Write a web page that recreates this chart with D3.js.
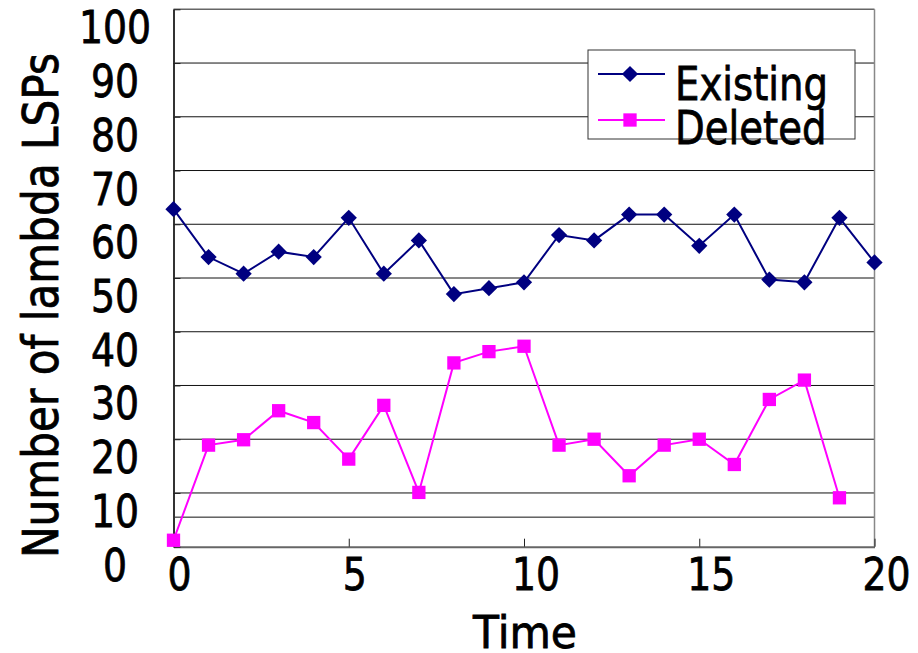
<!DOCTYPE html>
<html>
<head>
<meta charset="utf-8">
<script src="https://cdn.jsdelivr.net/npm/d3@7"></script>
<style>
  html, body { margin: 0; padding: 0; background: #fff; }
  text { font-family: "DejaVu Sans", Verdana, sans-serif; fill: #000; stroke: #000; stroke-width: 0.8px; }
</style>
</head>
<body>
<div id="chart"></div>
<script>
// data
var times = [0, 1, 2, 3, 4, 5, 6, 7, 8, 9, 10, 11, 12, 13, 14, 15, 16, 17, 18, 19, 20];
var existing = [62.8, 53.9, 50.8, 54.9, 53.9, 61.2, 50.8, 57.0, 47.0, 48.1, 49.2,
                58.0, 57.0, 61.8, 61.8, 56.0, 61.8, 49.7, 49.2, 61.2, 52.9];
var deleted = [1.2, 18.9, 19.9, 25.3, 23.1, 16.3, 26.3, 10.1, 34.2, 36.3, 37.3,
               18.9, 20.0, 13.2, 18.9, 20.0, 15.3, 27.4, 31.0, 9.1];
var yTicks = [0, 10, 20, 30, 40, 50, 60, 70, 80, 90, 100];
var xTicks = [0, 5, 10, 15, 20];
var extraLines = [5.5];
var seriesNames = ["Existing", "Deleted"];

var w = 918,
    h = 653;

var x = d3.scaleLinear().domain([0, 20]).range([173.5, 874.5]);
var y = d3.scaleLinear().domain([0, 100]).range([546.7, 9.3]);

var svg = d3.select("#chart").append("svg")
    .attr("width", w)
    .attr("height", h);

// squeeze text horizontally, the original font is narrow
function squeeze(sel, factor) {
    sel.each(function() {
        var len = this.getComputedTextLength();
        d3.select(this)
            .attr("textLength", len * factor)
            .attr("lengthAdjust", "spacingAndGlyphs");
    });
}

// gridlines
svg.append("g").selectAll("line")
    .data(yTicks.slice(1, -1).concat(extraLines))
    .enter().append("line")
    .attr("x1", x(0)).attr("x2", x(20))
    .attr("y1", function(d) { return y(d); })
    .attr("y2", function(d) { return y(d); })
    .attr("stroke", "#111")
    .attr("stroke-width", 1);

// frame
svg.append("line")
    .attr("x1", x(0)).attr("x2", x(20))
    .attr("y1", y(100)).attr("y2", y(100))
    .attr("stroke", "#666").attr("stroke-width", 1.5);
svg.append("line")
    .attr("x1", x(20)).attr("x2", x(20))
    .attr("y1", y(100)).attr("y2", y(0))
    .attr("stroke", "#888").attr("stroke-width", 1.5);

// axes
var xAxis = d3.axisBottom(x).tickValues(xTicks).tickSizeInner(-8).tickSizeOuter(0).tickFormat("");
svg.append("g")
    .attr("transform", "translate(0," + y(0) + ")")
    .call(xAxis)
    .call(function(g) {
        g.select(".domain").attr("stroke", "#666").attr("stroke-width", 2);
        g.selectAll(".tick line").attr("stroke", "#222");
    });

var yAxis = d3.axisLeft(y).tickValues(yTicks).tickSizeInner(-7).tickSizeOuter(0).tickFormat("");
svg.append("g")
    .attr("transform", "translate(" + x(0) + ",0)")
    .call(yAxis)
    .call(function(g) {
        g.select(".domain").attr("stroke", "#333").attr("stroke-width", 2);
        g.selectAll(".tick line").attr("stroke", "#222");
    });

// tick labels
var yLab = svg.append("g").selectAll("text")
    .data(yTicks)
    .enter().append("text")
    .attr("font-size", 45)
    .attr("y", function(d) { return y(d) + 34; })
    .text(function(d) { return d; });
squeeze(yLab, 0.84);
yLab.attr("x", function() { return 115 - this.getAttribute("textLength") / 2; });

var xLab = svg.append("g").selectAll("text")
    .data(xTicks)
    .enter().append("text")
    .attr("font-size", 45)
    .attr("y", 590)
    .text(function(d) { return d; });
squeeze(xLab, 0.84);
xLab.attr("x", function(d) { return x(d) - this.getAttribute("textLength") / 4; });

// axis titles
svg.append("text")
    .attr("font-size", 45)
    .attr("x", 473)
    .attr("y", 648)
    .attr("textLength", 104)
    .attr("lengthAdjust", "spacingAndGlyphs")
    .text("Time");

svg.append("text")
    .attr("font-size", 49)
    .attr("transform", "translate(58,558) rotate(-90)")
    .attr("textLength", 505)
    .attr("lengthAdjust", "spacingAndGlyphs")
    .text("Number of lambda LSPs");

// series
var line = d3.line()
    .x(function(d, i) { return x(times[i]); })
    .y(function(d) { return y(d); });

var diamond = d3.symbol().type(d3.symbolSquare).size(132);
var square = d3.symbol().type(d3.symbolSquare).size(177);

svg.append("path")
    .attr("d", line(existing))
    .attr("fill", "none")
    .attr("stroke", "#000080")
    .attr("stroke-width", 2);

svg.append("path")
    .attr("d", line(deleted))
    .attr("fill", "none")
    .attr("stroke", "#ff00ff")
    .attr("stroke-width", 2);

svg.append("g").selectAll("path")
    .data(existing)
    .enter().append("path")
    .attr("d", diamond)
    .attr("transform", function(d, i) { return "translate(" + x(times[i]) + "," + y(d) + ") rotate(45)"; })
    .attr("fill", "#000080");

svg.append("g").selectAll("path")
    .data(deleted)
    .enter().append("path")
    .attr("d", square)
    .attr("transform", function(d, i) { return "translate(" + x(times[i]) + "," + y(d) + ")"; })
    .attr("fill", "#ff00ff");

// legend
var legend = svg.append("g");
legend.append("rect")
    .attr("x", 588).attr("y", 50)
    .attr("width", 267).attr("height", 89)
    .attr("fill", "#fff")
    .attr("stroke", "#333")
    .attr("stroke-width", 1);

var legColors = ["#000080", "#ff00ff"];
var legY = [74, 120];
var legShapes = [diamond, square];
var legRot = [" rotate(45)", ""];

seriesNames.forEach(function(name, i) {
    legend.append("line")
        .attr("x1", 598).attr("x2", 665)
        .attr("y1", legY[i]).attr("y2", legY[i])
        .attr("stroke", legColors[i])
        .attr("stroke-width", 2);
    legend.append("path")
        .attr("d", legShapes[i])
        .attr("transform", "translate(630," + legY[i] + ")" + legRot[i])
        .attr("fill", legColors[i]);
});

var legText = legend.selectAll("text.leg")
    .data(seriesNames)
    .enter().append("text")
    .attr("class", "leg")
    .attr("font-size", 46)
    .attr("x", 675)
    .attr("y", function(d, i) { return [100, 143.5][i]; })
    .text(function(d) { return d; });
squeeze(legText, 0.84);
</script>
</body>
</html>
